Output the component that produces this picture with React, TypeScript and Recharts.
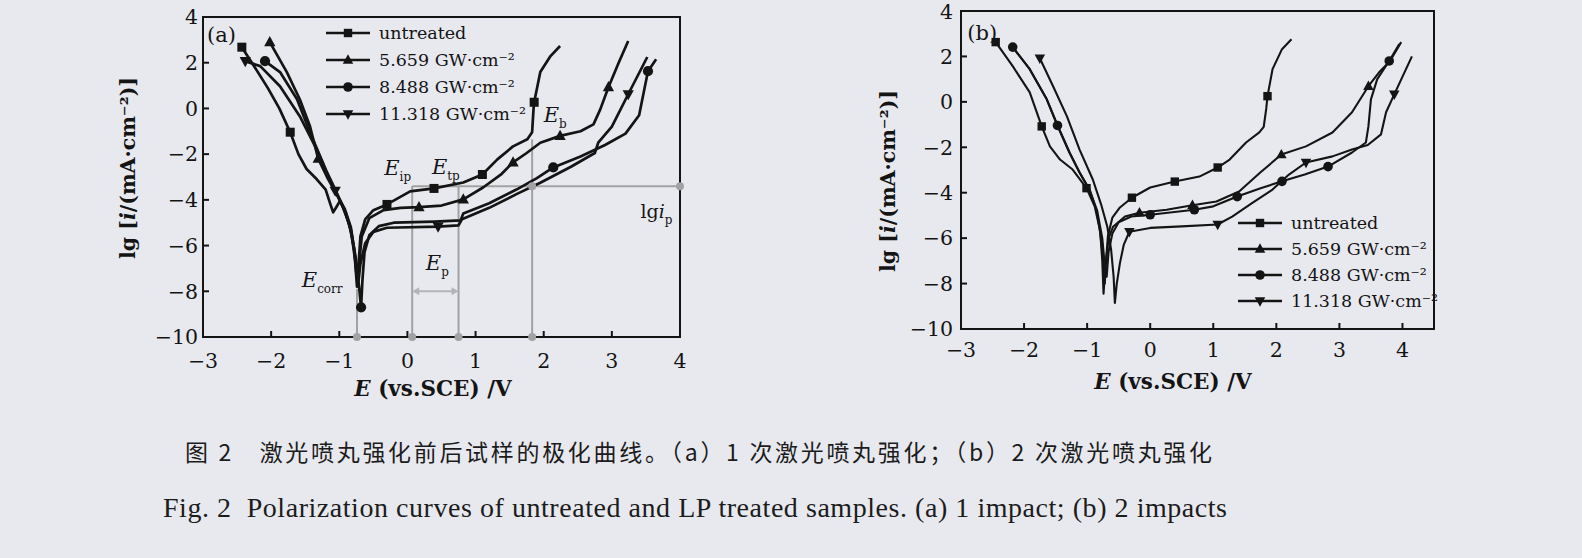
import React from 'react';
import {
  LineChart,
  Line,
  XAxis,
  YAxis,
  Legend,
  Label,
  ReferenceArea,
  ReferenceLine,
  ReferenceDot,
} from 'recharts';

type Pt = [number, number];

const xTicks = [-3, -2, -1, 0, 1, 2, 3, 4];
const yTicks = [-10, -8, -6, -4, -2, 0, 2, 4];
const seriesNames = ['untreated', '5.659 GW·cm⁻²', '8.488 GW·cm⁻²', '11.318 GW·cm⁻²'];
const markerKinds = ['square', 'up', 'circle', 'down'];

// (a) 1 impact, points are [E (V vs SCE), lg i]
const untreatedA: Pt[] = [
  [-2.43, 2.68], [-2.25, 1.85], [-2.05, 0.9], [-1.88, 0.0], [-1.72, -1.04], [-1.6, -2.0],
  [-1.48, -2.65], [-1.33, -3.1], [-1.2, -3.55], [-1.13, -4.2], [-1.09, -4.55], [-1.04, -4.3],
  [-0.99, -4.05], [-0.9, -4.6], [-0.82, -5.5], [-0.77, -6.6], [-0.74, -7.8], [-0.72, -7.0],
  [-0.69, -5.6], [-0.62, -4.85], [-0.5, -4.45], [-0.3, -4.2], [0.04, -3.63], [0.39, -3.5],
  [0.82, -3.24], [1.1, -2.89], [1.32, -2.23], [1.55, -1.66], [1.76, -1.35], [1.83, -1.04],
  [1.85, -0.04], [1.86, 0.27], [1.95, 1.59], [2.1, 2.29], [2.24, 2.73],
];
const untreatedAMarks = [0, 4, 21, 23, 25, 31];

const lp5A: Pt[] = [
  [-2.02, 2.9], [-1.77, 1.59], [-1.58, 0.4], [-1.43, -0.78], [-1.31, -2.2], [-1.18, -3.0],
  [-1.05, -3.7], [-0.92, -4.4], [-0.83, -5.2], [-0.78, -6.2], [-0.75, -7.2], [-0.73, -7.6],
  [-0.71, -6.8], [-0.67, -5.6], [-0.56, -4.8], [-0.35, -4.45], [-0.1, -4.35], [0.17, -4.32],
  [0.5, -4.25], [0.82, -3.98], [1.11, -3.46], [1.37, -2.9], [1.55, -2.36], [1.75, -1.95],
  [1.95, -1.5], [2.24, -1.2], [2.54, -1.0], [2.73, -0.7], [2.83, -0.04], [2.95, 0.93],
  [3.1, 2.0], [3.24, 2.95],
];
const lp5AMarks = [0, 4, 17, 19, 22, 25, 29];

const lp8A: Pt[] = [
  [-2.09, 2.07], [-1.87, 1.59], [-1.62, 0.4], [-1.43, -1.04], [-1.18, -2.8], [-1.05, -3.6],
  [-0.93, -4.4], [-0.83, -5.3], [-0.76, -6.5], [-0.71, -7.8], [-0.68, -8.7], [-0.66, -7.5],
  [-0.63, -6.3], [-0.56, -5.55], [-0.42, -5.15], [-0.2, -5.0], [0.4, -4.95], [0.78, -4.9],
  [0.82, -4.6], [1.2, -4.15], [1.6, -3.55], [1.9, -3.05], [2.14, -2.58], [2.54, -2.1],
  [2.9, -1.6], [3.2, -1.1], [3.4, -0.3], [3.53, 1.63], [3.65, 2.15],
];
const lp8AMarks = [0, 10, 22, 27];

const lp11A: Pt[] = [
  [-2.38, 2.07], [-2.16, 1.85], [-1.87, 0.97], [-1.58, -0.34], [-1.33, -1.8], [-1.17, -2.9],
  [-1.06, -3.6], [-0.95, -4.3], [-0.85, -5.1], [-0.78, -6.2], [-0.74, -7.3], [-0.72, -7.6],
  [-0.69, -6.8], [-0.62, -5.9], [-0.5, -5.4], [-0.3, -5.22], [0.45, -5.17], [0.75, -5.12],
  [0.8, -4.85], [1.2, -4.35], [1.6, -3.75], [1.95, -3.25], [2.4, -2.55], [2.75, -1.95],
  [2.8, -1.5], [3.0, -0.8], [3.24, 0.62], [3.52, 2.25],
];
const lp11AMarks = [0, 6, 16, 26];

// annotation values of panel (a)
const ecorrA = -0.74;
const eipA = 0.07;
const etpA = 0.75;
const ebA = 1.83;
const lgipA = -3.4;

// (b) 2 impacts
const untreatedB: Pt[] = [
  [-2.45, 2.63], [-2.18, 1.57], [-1.91, 0.42], [-1.72, -1.08], [-1.59, -1.96], [-1.43, -2.54],
  [-1.23, -2.98], [-1.01, -3.8], [-0.88, -4.6], [-0.8, -5.6], [-0.75, -6.8], [-0.72, -8.0],
  [-0.7, -7.0], [-0.67, -5.9], [-0.6, -5.1], [-0.48, -4.65], [-0.29, -4.22], [0.0, -3.77],
  [0.39, -3.51], [0.78, -3.29], [1.07, -2.89], [1.26, -2.54], [1.52, -1.79], [1.73, -1.34],
  [1.8, -1.1], [1.84, -0.3], [1.86, 0.25], [1.94, 1.44], [2.09, 2.32], [2.24, 2.76],
];
const untreatedBMarks = [0, 3, 7, 16, 18, 20, 26];

const lp5B: Pt[] = [
  [-2.18, 2.41], [-1.91, 1.44], [-1.64, 0.11], [-1.47, -1.04], [-1.28, -2.23], [-1.12, -3.11],
  [-0.96, -3.86], [-0.85, -4.8], [-0.79, -5.8], [-0.76, -7.0], [-0.74, -8.45], [-0.71, -7.2],
  [-0.66, -6.0], [-0.59, -5.5], [-0.4, -5.05], [-0.17, -4.88], [0.26, -4.75], [0.67, -4.55],
  [1.05, -4.39], [1.41, -3.95], [1.75, -3.1], [2.08, -2.32], [2.47, -1.96], [2.89, -1.35],
  [3.2, -0.46], [3.46, 0.69], [3.63, 1.3], [3.79, 1.75], [3.98, 2.63],
];
const lp5BMarks = [15, 17, 21, 25];

const lp8B: Pt[] = [
  [-2.18, 2.41], [-1.91, 1.44], [-1.64, 0.11], [-1.47, -1.04], [-1.28, -2.23], [-1.12, -3.11],
  [-0.96, -3.9], [-0.84, -4.8], [-0.76, -6.0], [-0.72, -7.2], [-0.69, -7.7], [-0.66, -6.6],
  [-0.6, -5.8], [-0.5, -5.3], [-0.3, -5.05], [0.0, -4.97], [0.7, -4.75], [1.0, -4.6],
  [1.38, -4.17], [1.75, -3.8], [2.09, -3.5], [2.45, -3.2], [2.82, -2.85], [3.2, -2.23],
  [3.42, -1.79], [3.46, -1.08], [3.5, 0.11], [3.6, 1.0], [3.79, 1.8], [3.95, 2.54],
];
const lp8BMarks = [0, 3, 15, 16, 18, 20, 22, 28];

const lp11B: Pt[] = [
  [-1.75, 1.92], [-1.54, 0.69], [-1.32, -0.64], [-1.12, -2.1], [-0.91, -3.42], [-0.78, -4.5],
  [-0.68, -5.5], [-0.62, -6.5], [-0.58, -7.7], [-0.56, -8.85], [-0.53, -8.0], [-0.48, -7.1],
  [-0.42, -6.3], [-0.33, -5.72], [0.0, -5.55], [0.5, -5.48], [1.07, -5.4], [1.3, -5.05],
  [1.62, -4.45], [1.94, -3.86], [2.2, -3.2], [2.47, -2.67], [2.89, -2.4], [3.2, -2.1],
  [3.45, -1.9], [3.66, -1.43], [3.74, -0.46], [3.87, 0.33], [4.15, 2.0],
];
const lp11BMarks = [0, 13, 16, 21, 27];

const captionZh = '图 2　激光喷丸强化前后试样的极化曲线。（a）1 次激光喷丸强化；（b）2 次激光喷丸强化';
const captionEn = 'Fig. 2  Polarization curves of untreated and LP treated samples. (a) 1 impact; (b) 2 impacts';

const serif = '"DejaVu Serif", serif';
const ink = '#141414';
const gray = '#a2a2a4';

const toPoints = (arr: Pt[]) => arr.map(([E, lg]) => ({ E, lg }));
const minus = (v: number) => String(v).replace('-', '−');

function Marker({ kind, cx, cy, s }: { kind: string; cx: number; cy: number; s: number }) {
  if (kind === 'square') {
    return <rect x={cx - s} y={cy - s} width={2 * s} height={2 * s} fill={ink} />;
  }
  if (kind === 'circle') {
    return <circle cx={cx} cy={cy} r={s + 0.6} fill={ink} />;
  }
  if (kind === 'up') {
    return (
      <polygon
        points={`${cx},${cy - s * 1.35} ${cx - s * 1.25},${cy + s * 0.9} ${cx + s * 1.25},${cy + s * 0.9}`}
        fill={ink}
      />
    );
  }
  return (
    <polygon
      points={`${cx},${cy + s * 1.35} ${cx - s * 1.25},${cy - s * 0.9} ${cx + s * 1.25},${cy - s * 0.9}`}
      fill={ink}
    />
  );
}

const makeDot = (kind: string, marks: number[], s: number) => (props: any) => {
  const { cx, cy, index } = props;
  if (!marks.includes(index) || cx == null || cy == null) return <g key={`d-${index}`} />;
  return (
    <g key={`d-${index}`}>
      <Marker kind={kind} cx={cx} cy={cy} s={s} />
    </g>
  );
};

const renderLegend = (rowH: number, lineW: number) => () => (
  <div>
    {seriesNames.map((name, i) => (
      <div key={name} style={{ display: 'flex', alignItems: 'center', height: rowH }}>
        <svg width={lineW} height={16} style={{ flex: 'none' }}>
          <line x1={0} y1={8} x2={lineW} y2={8} stroke={ink} strokeWidth={2.4} />
          <Marker kind={markerKinds[i]} cx={lineW / 2} cy={8} s={4.2} />
        </svg>
        <span
          style={{
            marginLeft: 9,
            fontFamily: serif,
            fontSize: 17.5,
            color: ink,
            whiteSpace: 'nowrap',
          }}
        >
          {name}
        </span>
      </div>
    ))}
  </div>
);

const annot = (main: string, sub: string, italic = true) => (p: any) => {
  const vb = p.viewBox;
  const x = vb.x + vb.width / 2;
  const y = vb.y + vb.height / 2;
  return (
    <text x={x} y={y} dy="0.36em" fontFamily={serif} fontSize={21} fill={ink}>
      <tspan fontStyle={italic ? 'italic' : 'normal'}>{main}</tspan>
      <tspan fontSize={12} dy={6}>
        {sub}
      </tspan>
    </text>
  );
};

const lgipLabel = (p: any) => {
  const vb = p.viewBox;
  const x = vb.x + vb.width / 2;
  const y = vb.y + vb.height / 2;
  return (
    <text x={x} y={y} dy="0.36em" fontFamily={serif} fontSize={19} fill={ink}>
      lg<tspan fontStyle="italic">i</tspan>
      <tspan fontSize={12} dy={6}>
        p
      </tspan>
    </text>
  );
};

const panelLetter = (txt: string) => (p: any) => {
  const vb = p.viewBox;
  return (
    <text
      x={vb.x + vb.width / 2}
      y={vb.y + vb.height / 2}
      dy="0.36em"
      fontFamily={serif}
      fontSize={21}
      fill={ink}
    >
      {txt}
    </text>
  );
};

const yLabel = (cx: number, cy: number) => () => (
  <text
    x={cx}
    y={cy}
    transform={`rotate(-90 ${cx} ${cy})`}
    textAnchor="middle"
    dy="0.36em"
    fontFamily={serif}
    fontSize={20.5}
    fontWeight={600}
    fill={ink}
  >
    lg [<tspan fontStyle="italic">i</tspan>/(mA·cm⁻²)]
  </text>
);

const xLabel = (cx: number, cy: number) => () => (
  <text
    x={cx}
    y={cy}
    textAnchor="middle"
    dy="0.36em"
    fontFamily={serif}
    fontSize={21.5}
    fontWeight={600}
    fill={ink}
  >
    <tspan fontStyle="italic">E</tspan> (vs.SCE) /V
  </text>
);

const arrowShape = (p: any) => {
  const { x1, y1, x2, y2 } = p;
  const a = 7;
  return (
    <g>
      <line x1={x1 + 3} y1={y1} x2={x2 - 3} y2={y2} stroke="#b4b4b8" strokeWidth={2} />
      <polygon points={`${x1},${y1} ${x1 + a},${y1 - 4} ${x1 + a},${y1 + 4}`} fill="#b4b4b8" />
      <polygon points={`${x2},${y2} ${x2 - a},${y2 - 4} ${x2 - a},${y2 + 4}`} fill="#b4b4b8" />
    </g>
  );
};

const tickStyle = { fontFamily: serif, fontSize: 20.5, fill: ink };

interface PanelProps {
  series: { pts: Pt[]; marks: number[] }[];
  xMax: number;
  width: number;
  margin: { top: number; right: number; bottom: number; left: number };
  yTickMargin: number;
  xTickMargin: number;
  lineWidth: number;
  markSize: number;
  legendPos: { left: number; top: number };
  legendRow: number;
  yLabelPos: [number, number];
  xLabelPos: [number, number];
  letter: string;
  letterAt: [number, number];
  children?: React.ReactNode;
}

function Panel(p: PanelProps) {
  return (
    <LineChart width={p.width} height={400} margin={p.margin}>
      <XAxis
        dataKey="E"
        type="number"
        domain={[-3, p.xMax]}
        ticks={xTicks}
        allowDataOverflow
        height={30}
        tickSize={-6}
        tickMargin={p.xTickMargin}
        tick={tickStyle}
        tickFormatter={minus}
        axisLine={{ stroke: ink, strokeWidth: 2 }}
        tickLine={{ stroke: ink, strokeWidth: 2 }}
      >
        <Label content={xLabel(p.xLabelPos[0], p.xLabelPos[1])} />
      </XAxis>
      <YAxis
        dataKey="lg"
        type="number"
        domain={[-10, 4]}
        ticks={yTicks}
        allowDataOverflow
        width={60}
        tickSize={-6}
        tickMargin={p.yTickMargin}
        tick={tickStyle}
        tickFormatter={minus}
        axisLine={{ stroke: ink, strokeWidth: 2 }}
        tickLine={{ stroke: ink, strokeWidth: 2 }}
      >
        <Label content={yLabel(p.yLabelPos[0], p.yLabelPos[1])} />
      </YAxis>
      <ReferenceArea
        x1={-3}
        x2={p.xMax}
        y1={-10}
        y2={4}
        fill="none"
        stroke={ink}
        strokeWidth={2}
        fillOpacity={0}
      />
      {p.children}
      {p.series.map((s, i) => (
        <Line
          key={seriesNames[i]}
          data={toPoints(s.pts)}
          dataKey="lg"
          name={seriesNames[i]}
          type="linear"
          stroke={ink}
          strokeWidth={p.lineWidth}
          strokeLinejoin="round"
          dot={makeDot(markerKinds[i], s.marks, p.markSize)}
          activeDot={false}
          isAnimationActive={false}
        />
      ))}
      <ReferenceDot
        x={p.letterAt[0]}
        y={p.letterAt[1]}
        r={1}
        fill="none"
        stroke="none"
        ifOverflow="visible"
        label={{ content: panelLetter(p.letter) }}
      />
      <Legend
        layout="vertical"
        align="center"
        verticalAlign="middle"
        content={renderLegend(p.legendRow, 44)}
        wrapperStyle={{ left: p.legendPos.left, top: p.legendPos.top, width: 'auto', height: 'auto' }}
      />
    </LineChart>
  );
}

export default function App() {
  const seriesA = [
    { pts: untreatedA, marks: untreatedAMarks },
    { pts: lp5A, marks: lp5AMarks },
    { pts: lp8A, marks: lp8AMarks },
    { pts: lp11A, marks: lp11AMarks },
  ];
  const seriesB = [
    { pts: untreatedB, marks: untreatedBMarks },
    { pts: lp5B, marks: lp5BMarks },
    { pts: lp8B, marks: lp8BMarks },
    { pts: lp11B, marks: lp11BMarks },
  ];
  const guide = { stroke: gray, strokeWidth: 2 };
  return (
    <div
      style={{
        position: 'absolute',
        left: 0,
        top: 0,
        width: 1582,
        height: 558,
        background: '#e8e9ef',
        overflow: 'hidden',
      }}
    >
      <div style={{ position: 'absolute', left: 0, top: 0 }}>
        <Panel
          series={seriesA}
          xMax={4}
          width={700}
          margin={{ top: 17, right: 20, bottom: 33, left: 143 }}
          yTickMargin={11}
          xTickMargin={22}
          lineWidth={2.7}
          markSize={4.5}
          legendPos={{ left: 326, top: 19 }}
          legendRow={27}
          yLabelPos={[128, 168]}
          xLabelPos={[433, 388]}
          letter="(a)"
          letterAt={[-2.94, 3.25]}
        >
          <ReferenceLine segment={[{ x: ecorrA, y: -7.9 }, { x: ecorrA, y: -10 }]} {...guide} />
          <ReferenceLine segment={[{ x: eipA, y: lgipA }, { x: eipA, y: -10 }]} {...guide} />
          <ReferenceLine segment={[{ x: etpA, y: lgipA }, { x: etpA, y: -10 }]} {...guide} />
          <ReferenceLine segment={[{ x: ebA, y: -1.35 }, { x: ebA, y: -10 }]} {...guide} />
          <ReferenceLine segment={[{ x: eipA, y: lgipA }, { x: 4, y: lgipA }]} {...guide} />
          <ReferenceLine segment={[{ x: eipA, y: -8 }, { x: etpA, y: -8 }]} shape={arrowShape} />
          {[ecorrA, eipA, etpA, ebA].map((e) => (
            <ReferenceDot key={e} x={e} y={-10} r={4} fill={gray} stroke="none" />
          ))}
          <ReferenceDot x={ebA} y={lgipA} r={4} fill={gray} stroke="none" />
          <ReferenceDot x={4} y={lgipA} r={4} fill={gray} stroke="none" />
          <ReferenceDot x={-1.55} y={-7.5} r={1} fill="none" stroke="none" label={{ content: annot('E', 'corr') }} />
          <ReferenceDot x={-0.34} y={-2.58} r={1} fill="none" stroke="none" label={{ content: annot('E', 'ip') }} />
          <ReferenceDot x={0.36} y={-2.54} r={1} fill="none" stroke="none" label={{ content: annot('E', 'tp') }} />
          <ReferenceDot x={2.0} y={-0.25} r={1} fill="none" stroke="none" label={{ content: annot('E', 'b') }} />
          <ReferenceDot x={0.27} y={-6.75} r={1} fill="none" stroke="none" label={{ content: annot('E', 'p') }} />
          <ReferenceDot x={3.42} y={-4.5} r={1} fill="none" stroke="none" label={{ content: lgipLabel }} />
        </Panel>
      </div>
      <div style={{ position: 'absolute', left: 860, top: 0 }}>
        <Panel
          series={seriesB}
          xMax={4.5}
          width={600}
          margin={{ top: 11, right: 26, bottom: 41, left: 41 }}
          yTickMargin={14}
          xTickMargin={19}
          lineWidth={2.1}
          markSize={4.2}
          legendPos={{ left: 378, top: 210 }}
          legendRow={26}
          yLabelPos={[28, 181]}
          xLabelPos={[313, 381]}
          letter="(b)"
          letterAt={[-2.9, 3.07]}
        />
      </div>
      <svg
        width={1582}
        height={558}
        style={{ position: 'absolute', left: 0, top: 0, pointerEvents: 'none' }}
      >
        <text
          x={185}
          y={461}
          fontFamily='"Noto Sans CJK SC", sans-serif'
          fontSize={23}
          fill="#1c1c1c"
          textLength={1027}
          lengthAdjust="spacing"
        >
          {captionZh}
        </text>
        <text
          x={163}
          y={517}
          fontFamily='"Liberation Serif", serif'
          fontSize={28}
          fill="#1c1c1c"
          textLength={1064}
          lengthAdjust="spacing"
          style={{ whiteSpace: 'pre' }}
        >
          {captionEn}
        </text>
      </svg>
    </div>
  );
}
